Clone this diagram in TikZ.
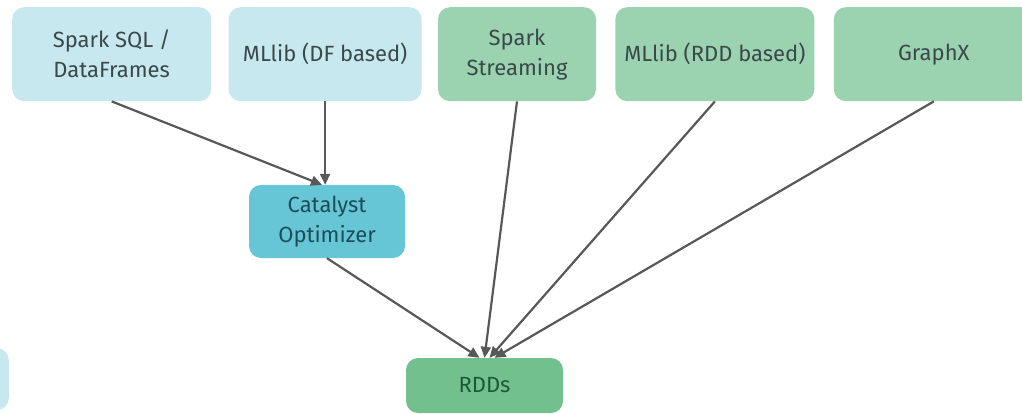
\documentclass[tikz,border=0pt]{standalone}
\usepackage{fontspec}
\setmainfont{Fira Sans}
\usetikzlibrary{positioning, arrows.meta}
\definecolor{paleblue}{RGB}{200,232,240}
\definecolor{palegreen}{RGB}{155,211,176}
\definecolor{tealbox}{RGB}{102,198,214}
\definecolor{rddgreen}{RGB}{114,192,142}
\definecolor{boxtext}{RGB}{58,72,74}
\definecolor{cattext}{RGB}{28,78,90}
\definecolor{rddtext}{RGB}{28,90,54}
\definecolor{arrowgray}{RGB}{88,88,88}

\begin{document}
\begin{tikzpicture}[x=1pt, y=-1pt,
  font=\fontsize{22}{30}\selectfont,
  arrow/.style={-{Triangle[length=11pt, width=10pt]}, line width=2.2pt, arrowgray},
  nd/.style={rounded corners=12pt, minimum height=94pt, align=center,
             text=boxtext, inner sep=0pt},
  df/.style={nd, fill=paleblue},
  rdd/.style={nd, fill=palegreen},
]
\useasboundingbox (0,0) rectangle (1022,414);

% --- Top row: libraries ---
\node[df, minimum width=199pt, anchor=north west] (sql) at (12,7) {Spark SQL /\\DataFrames};
\node[df, minimum width=193pt, right=17pt of sql] (mldf) {MLlib (DF based)};
\node[rdd, minimum width=158pt, right=16pt of mldf] (stream) {Spark\\Streaming};
\node[rdd, minimum width=199pt, right=19pt of stream] (mlrdd) {MLlib (RDD based)};
\node[rdd, minimum width=200pt, right=19pt of mlrdd] (graphx) {GraphX};

% --- Optimizer and core ---
\node[nd, fill=tealbox, text=cattext, minimum width=156pt, minimum height=73pt] (cat) at (327,221.5) {Catalyst\\Optimizer};
\node[nd, fill=rddgreen, text=rddtext, minimum width=157pt, minimum height=55pt] (rdds) at (484.5,385.5) {RDDs};
\node[df, minimum width=160pt, minimum height=62pt, anchor=east] (frag) at (9,379) {};

% --- Arrows ---
\draw[arrow] (sql.south) -- ([xshift=-5pt]cat.north);
\draw[arrow] (mldf.south) -- (mldf.south |- cat.north);
\draw[arrow] (cat.south) -- ([xshift=-5pt]rdds.north);
\draw[arrow] (stream.south) -- (rdds.north);
\draw[arrow] (mlrdd.south) -- ([xshift=5pt]rdds.north);
\draw[arrow] (graphx.south) -- ([xshift=10pt]rdds.north);

\end{tikzpicture}
\end{document}
